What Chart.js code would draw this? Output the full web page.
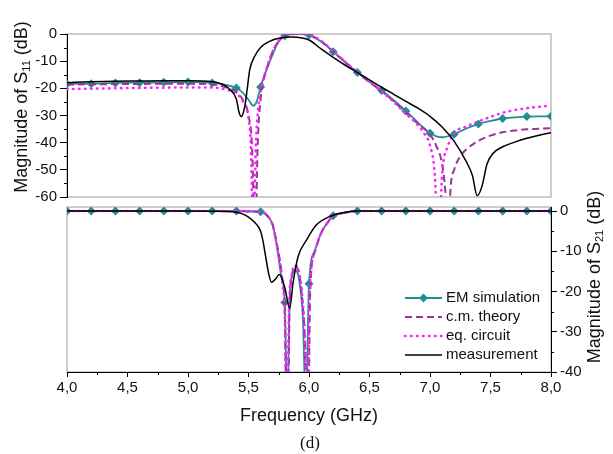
<!DOCTYPE html>
<html>
<head>
<meta charset="utf-8">
<title>S11 / S21</title>
<script src="https://cdn.jsdelivr.net/npm/chart.js@4.4.1/dist/chart.umd.min.js"></script>
<style>
    html, body { margin: 0; padding: 0; background: #fff; }
    #wrap { position: relative; width: 613px; height: 454px; }
    #wrap canvas { position: absolute; left: 0; top: 0; }
</style>
</head>
<body>
<div id="wrap">
    <canvas id="s11Chart" width="613" height="454"></canvas>
    <canvas id="s21Chart" width="613" height="454"></canvas>
</div>
<script>
"use strict";

// Datos
var FREQ_TICKS = [4.0, 4.5, 5.0, 5.5, 6.0, 6.5, 7.0, 7.5, 8.0];
var S11_TICKS = [-60, -50, -40, -30, -20, -10, 0];
var S21_TICKS = [-40, -30, -20, -10, 0];

var SERIES_NAMES = ['EM simulation', 'c.m. theory', 'eq. circuit', 'measurement'];

// S11 - panel de arriba
var S11_EM_F  = [4.0, 4.2, 4.4, 4.6, 4.8, 5.0, 5.2, 5.3, 5.4, 5.45, 5.5, 5.54, 5.57, 5.6, 5.65, 5.7, 5.75, 5.8, 5.85, 5.9, 5.95, 6.0, 6.1, 6.2, 6.3, 6.4, 6.5, 6.6, 6.7, 6.8, 6.9, 7.0, 7.1, 7.2, 7.3, 7.4, 7.5, 7.6, 7.7, 7.8, 7.9, 8.0];
var S11_EM_DB = [-18.4, -18.3, -18.0, -17.9, -17.8, -17.7, -18.0, -18.6, -19.9, -21.5, -24.2, -26.4, -24.5, -19.5, -13, -7.5, -2.8, -0.6, -0.1, 0, 0, -0.4, -2.8, -6.5, -10.4, -14.2, -17.6, -20.8, -24.4, -28.3, -32.6, -36.5, -38.0, -36.9, -34.8, -33.1, -32.0, -31.1, -30.7, -30.4, -30.3, -30.3];

var S11_CM_F  = [4.0, 4.5, 5.0, 5.2, 5.3, 5.4, 5.45, 5.5, 5.53, 5.555, 5.575, 5.6, 5.65, 5.7, 5.75, 5.8, 5.85, 5.95, 6.0, 6.1, 6.2, 6.3, 6.4, 6.5, 6.6, 6.7, 6.8, 6.9, 7.0, 7.05, 7.1, 7.13, 7.15, 7.17, 7.2, 7.25, 7.3, 7.4, 7.5, 7.6, 7.7, 7.8, 7.9, 8.0];
var S11_CM_DB = [-18.6, -18.4, -18.3, -18.6, -19.4, -21.5, -24, -30, -42, -80, -42, -24, -13, -6.5, -2.5, -0.5, 0, 0, -0.3, -2.7, -6.5, -10.4, -14.2, -17.7, -21.0, -24.8, -29.0, -33, -37, -41, -48, -60, -80, -57, -50, -45, -42.5, -39.3, -37.4, -36.2, -35.5, -35.1, -34.9, -34.7];

var S11_EQ_F  = [4.0, 4.5, 5.0, 5.2, 5.3, 5.4, 5.45, 5.5, 5.52, 5.54, 5.56, 5.58, 5.6, 5.65, 5.7, 5.75, 5.8, 5.85, 5.95, 6.0, 6.1, 6.2, 6.3, 6.4, 6.5, 6.6, 6.7, 6.8, 6.9, 6.95, 7.0, 7.04, 7.07, 7.1, 7.15, 7.2, 7.3, 7.4, 7.5, 7.6, 7.7, 7.8, 7.9, 8.0];
var S11_EQ_DB = [-20.3, -19.9, -19.7, -19.7, -20.3, -22, -24.5, -31, -42, -80, -42, -27, -21, -12.5, -6.5, -2.5, -0.5, 0, 0, -0.3, -2.5, -6.3, -10.3, -14.1, -17.7, -21.2, -25, -29.3, -33.5, -36.5, -41, -52, -80, -52, -41, -36.5, -34, -32.2, -30.5, -29, -28, -27.3, -26.8, -26.4];

var S11_MEAS_F  = [4.0, 4.2, 4.4, 4.6, 4.8, 5.0, 5.2, 5.3, 5.35, 5.4, 5.42, 5.44, 5.47, 5.49, 5.51, 5.55, 5.6, 5.65, 5.7, 5.75, 5.8, 5.85, 5.9, 6.0, 6.1, 6.2, 6.3, 6.4, 6.5, 6.6, 6.7, 6.8, 6.9, 7.0, 7.1, 7.2, 7.3, 7.35, 7.39, 7.43, 7.47, 7.52, 7.6, 7.7, 7.8, 7.9, 8.0];
var S11_MEAS_DB = [-17.9, -17.6, -17.4, -17.3, -17.2, -17.2, -17.6, -18.8, -20.6, -24, -28.5, -30.4, -26.5, -20, -13.2, -8.3, -5, -3.3, -2.2, -1.6, -1.2, -1.1, -1.2, -2.2, -5.5, -8.6, -11.5, -14.2, -16.9, -19.6, -22.2, -24.8, -27.3, -30.3, -34.2, -39.5, -47, -52, -59.5, -56, -48, -44, -41.5, -39.8, -38.4, -37.3, -36.3];

// S21 - panel de abajo
var S21_EM_F  = [4.0, 4.2, 4.4, 4.6, 4.8, 5.0, 5.2, 5.4, 5.6, 5.65, 5.7, 5.73, 5.77, 5.8, 5.82, 5.84, 5.86, 5.88, 5.9, 5.92, 5.95, 5.975, 6.0, 6.05, 6.1, 6.15, 6.2, 6.3, 6.4, 6.6, 6.8, 7.0, 7.2, 7.4, 7.6, 7.8, 8.0];
var S21_EM_DB = [0, 0, 0, 0, 0, 0, 0, 0, -0.2, -1, -3.5, -8, -16, -22.7, -50, -22, -16, -14.6, -15, -17.5, -27, -50, -18.1, -9.7, -5.5, -3, -1.2, -0.4, 0, 0, 0, 0, 0, 0, 0, 0, 0];

var S21_CM_F  = [4.0, 4.5, 5.0, 5.4, 5.5, 5.6, 5.65, 5.7, 5.74, 5.78, 5.8, 5.82, 5.84, 5.86, 5.89, 5.92, 5.95, 5.97, 5.99, 6.01, 6.05, 6.1, 6.15, 6.2, 6.3, 6.4, 7.0, 8.0];
var S21_CM_DB = [0, 0, 0, 0, -0.1, -0.3, -1, -3.5, -9, -17, -25, -60, -24, -16, -13.8, -16, -24, -35, -60, -20, -10, -5.5, -3, -1.3, -0.4, 0, 0, 0];

var S21_EQ_F  = [4.0, 4.5, 5.0, 5.4, 5.5, 5.6, 5.65, 5.7, 5.74, 5.78, 5.8, 5.815, 5.835, 5.86, 5.885, 5.92, 5.95, 5.97, 5.985, 6.005, 6.05, 6.1, 6.15, 6.2, 6.3, 6.4, 7.0, 8.0];
var S21_EQ_DB = [0, 0, 0, 0, -0.1, -0.3, -1, -3.6, -9.5, -18, -27, -60, -24, -15.5, -13.5, -15.5, -23, -35, -60, -21, -10, -5.5, -3, -1.3, -0.4, 0, 0, 0];

var S21_MEAS_F  = [4.0, 4.5, 5.0, 5.3, 5.4, 5.45, 5.5, 5.55, 5.6, 5.62, 5.64, 5.67, 5.69, 5.72, 5.755, 5.8, 5.84, 5.87, 5.91, 5.98, 6.06, 6.17, 6.3, 6.4, 7.0, 8.0];
var S21_MEAS_DB = [0, 0, 0, -0.1, -0.3, -0.7, -1.5, -2.8, -5, -7.5, -11, -16, -17.7, -17, -15.8, -19, -24.1, -17.5, -11.3, -7.2, -3.5, -1.4, -0.3, 0, 0, 0];

var FONT = "'Liberation Sans', Arial, sans-serif";
var GRIS = '#bdbdbd';

// Une frecuencias y valores en puntos {x, y}
function puntos(f, db) {
    return f.map(function (v, i) { return {x: v, y: db[i]}; });
}

// Marcador solo en los puntos de la rejilla de 0,2 GHz
function radioMarcador(ctx) {
    var x = ctx.raw ? ctx.raw.x : 0;
    return Math.abs(x * 5 - Math.round(x * 5)) < 1e-6 ? 4.5 : 0;
}

// Estilos de las cuatro curvas
var ESTILOS = [
    {borderColor: '#1f8f8f', backgroundColor: '#1f8f8f', borderWidth: 1.8, borderDash: [], pointStyle: 'rectRot', order: 3},
    {borderColor: '#993399', backgroundColor: '#993399', borderWidth: 2, borderDash: [7, 4], order: 2},
    {borderColor: '#ff22ff', backgroundColor: '#ff22ff', borderWidth: 2.6, borderDash: [0.5, 5.5], borderCapStyle: 'round', order: 1},
    {borderColor: '#000000', backgroundColor: '#000000', borderWidth: 1.5, borderDash: [], order: 0}
];

function crearDatasets(lista) {
    return lista.map(function (d, i) {
        var e = ESTILOS[i];
        return {
            label: SERIES_NAMES[i],
            data: d,
            borderColor: e.borderColor,
            backgroundColor: e.backgroundColor,
            borderWidth: e.borderWidth,
            borderDash: e.borderDash,
            borderCapStyle: e.borderCapStyle || 'butt',
            pointStyle: e.pointStyle || 'circle',
            pointRadius: i === 0 ? radioMarcador : 0,
            pointBorderWidth: 0,
            cubicInterpolationMode: 'monotone',
            order: e.order
        };
    });
}

// Marcas menores entre las mayores
function marcasMenores(ctx, scale, valores, largo, lado) {
    ctx.save();
    ctx.strokeStyle = '#000';
    ctx.lineWidth = 1;
    for (var i = 0; i < valores.length - 1; i++) {
        var m = (valores[i] + valores[i + 1]) / 2;
        var p = Math.round(scale.getPixelForValue(m)) + 0.5;
        ctx.beginPath();
        if (lado === 'left') { ctx.moveTo(scale.right, p); ctx.lineTo(scale.right - largo, p); }
        if (lado === 'right') { ctx.moveTo(scale.left, p); ctx.lineTo(scale.left + largo, p); }
        if (lado === 'bottom') { ctx.moveTo(p, scale.top); ctx.lineTo(p, scale.top + largo); }
        ctx.stroke();
    }
    ctx.restore();
}

// Titulo vertical con subindice (se lee de abajo hacia arriba)
function tituloVertical(ctx, cx, cy, sub) {
    var partes = [
        {t: 'Magnitude of S', f: '18px ' + FONT, dy: 0},
        {t: sub, f: '11px ' + FONT, dy: 5},
        {t: ' (dB)', f: '18px ' + FONT, dy: 0}
    ];
    ctx.save();
    var total = 0;
    partes.forEach(function (p) { ctx.font = p.f; p.w = ctx.measureText(p.t).width; total += p.w; });
    ctx.translate(cx, cy);
    ctx.rotate(-Math.PI / 2);
    ctx.fillStyle = '#111';
    ctx.textBaseline = 'middle';
    ctx.textAlign = 'left';
    var x = -total / 2;
    partes.forEach(function (p) {
        ctx.font = p.f;
        ctx.fillText(p.t, x, p.dy);
        x += p.w;
    });
    ctx.restore();
}

// Marco gris alrededor del area
function marcoGris(chart) {
    var a = chart.chartArea, ctx = chart.ctx;
    ctx.save();
    ctx.strokeStyle = GRIS;
    ctx.lineWidth = 1.5;
    ctx.strokeRect(a.left, a.top, a.right - a.left, a.bottom - a.top);
    ctx.restore();
}

var plugS11 = {
    id: 'extrasS11',
    beforeDraw: function (chart) { marcoGris(chart); },
    afterDraw: function (chart) {
        marcasMenores(chart.ctx, chart.scales.y, S11_TICKS, 3, 'left');
        tituloVertical(chart.ctx, 22, 107, '11');
    }
};

var plugS21 = {
    id: 'extrasS21',
    beforeDraw: function (chart) { marcoGris(chart); },
    afterDraw: function (chart) {
        var ctx = chart.ctx;
        marcasMenores(ctx, chart.scales.y, S21_TICKS, 3, 'right');
        marcasMenores(ctx, chart.scales.x, FREQ_TICKS, 3, 'bottom');
        tituloVertical(ctx, 595, 277, '21');

        // Titulo del eje x y rotulo (d)
        ctx.save();
        ctx.fillStyle = '#111';
        ctx.textAlign = 'center';
        ctx.textBaseline = 'alphabetic';
        ctx.font = '18px ' + FONT;
        ctx.fillText('Frequency (GHz)', 309, 421);
        ctx.font = "17px 'Liberation Serif', 'Times New Roman', serif";
        ctx.fillText('(d)', 310, 448);
        ctx.restore();

        // Leyenda dentro del panel
        var ds = chart.data.datasets;
        var filas = [298, 317, 336, 355];
        ctx.save();
        ctx.font = '15px ' + FONT;
        ctx.textBaseline = 'middle';
        ctx.textAlign = 'left';
        for (var i = 0; i < ds.length; i++) {
            var y = filas[i];
            ctx.strokeStyle = ds[i].borderColor;
            ctx.lineWidth = ds[i].borderWidth;
            ctx.lineCap = ds[i].borderCapStyle;
            ctx.setLineDash(ds[i].borderDash);
            ctx.beginPath();
            ctx.moveTo(405, y);
            ctx.lineTo(442, y);
            ctx.stroke();
            ctx.setLineDash([]);
            if (i === 0) {
                ctx.fillStyle = ds[i].backgroundColor;
                ctx.beginPath();
                ctx.moveTo(423.5, y - 4.5);
                ctx.lineTo(428, y);
                ctx.lineTo(423.5, y + 4.5);
                ctx.lineTo(419, y);
                ctx.closePath();
                ctx.fill();
            }
            ctx.fillStyle = '#111';
            ctx.fillText(ds[i].label, 446, y);
        }
        ctx.restore();
    }
};

function opcionesTicks() {
    return {color: '#111', font: {family: FONT, size: 15}, padding: 3};
}

// Grafico S11
var s11Chart = new Chart(document.getElementById('s11Chart'), {
    type: 'line',
    data: {
        datasets: crearDatasets([
            puntos(S11_EM_F, S11_EM_DB),
            puntos(S11_CM_F, S11_CM_DB),
            puntos(S11_EQ_F, S11_EQ_DB),
            puntos(S11_MEAS_F, S11_MEAS_DB)
        ])
    },
    options: {
        responsive: false,
        animation: false,
        devicePixelRatio: 1,
        layout: {padding: {left: 0, right: 62, top: 34, bottom: 257}},
        plugins: {legend: {display: false}, tooltip: {enabled: false}},
        scales: {
            x: {type: 'linear', min: 4, max: 8, display: false},
            y: {
                min: -60, max: 0,
                afterBuildTicks: function (s) { s.ticks = S11_TICKS.map(function (v) { return {value: v}; }); },
                afterFit: function (s) { s.width = 67; s.paddingTop = 0; s.paddingBottom = 0; },
                grid: {drawOnChartArea: false, tickLength: 7, tickColor: '#000', tickWidth: 1},
                border: {color: '#000', width: 1},
                ticks: Object.assign(opcionesTicks(), {callback: function (v) { return String(v); }})
            }
        }
    },
    plugins: [plugS11]
});

// Grafico S21
var s21Chart = new Chart(document.getElementById('s21Chart'), {
    type: 'line',
    data: {
        datasets: crearDatasets([
            puntos(S21_EM_F, S21_EM_DB),
            puntos(S21_CM_F, S21_CM_DB),
            puntos(S21_EQ_F, S21_EQ_DB),
            puntos(S21_MEAS_F, S21_MEAS_DB)
        ])
    },
    options: {
        responsive: false,
        animation: false,
        devicePixelRatio: 1,
        layout: {padding: {left: 67, right: 0, top: 207, bottom: 0}},
        plugins: {legend: {display: false}, tooltip: {enabled: false}},
        scales: {
            x: {
                type: 'linear', min: 4, max: 8, position: 'bottom',
                afterBuildTicks: function (s) { s.ticks = FREQ_TICKS.map(function (v) { return {value: v}; }); },
                afterFit: function (s) { s.height = 82; s.paddingLeft = 0; s.paddingRight = 0; },
                grid: {drawOnChartArea: false, tickLength: 5, tickColor: '#000', tickWidth: 1},
                border: {color: '#000', width: 1},
                ticks: Object.assign(opcionesTicks(), {
                    padding: 2, maxRotation: 0, autoSkip: false,
                    callback: function (v) { return Number(v).toFixed(1).replace('.', ','); }
                })
            },
            y: {
                position: 'right',
                min: -40, max: 1,
                afterBuildTicks: function (s) { s.ticks = S21_TICKS.map(function (v) { return {value: v}; }); },
                afterFit: function (s) { s.width = 62; s.paddingTop = 0; s.paddingBottom = 0; },
                grid: {drawOnChartArea: false, tickLength: 6, tickColor: '#000', tickWidth: 1},
                border: {color: '#000', width: 1},
                ticks: Object.assign(opcionesTicks(), {callback: function (v) { return String(v); }})
            }
        }
    },
    plugins: [plugS21]
});
</script>
</body>
</html>
